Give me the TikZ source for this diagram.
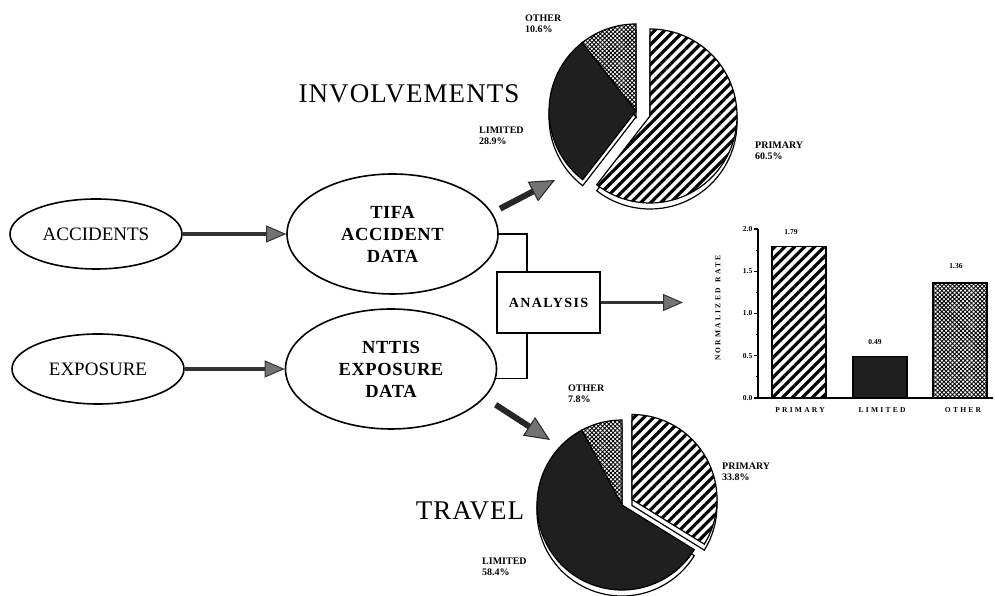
\documentclass[tikz,border=0pt]{standalone}
\usepackage{fontspec}
\setmainfont{Liberation Serif}
\newfontfamily\titlefont[LetterSpace=4]{Liberation Serif}
\newfontfamily\datafont[LetterSpace=3]{Liberation Serif}
\newfontfamily\boxfont[LetterSpace=10]{Liberation Serif}
\newfontfamily\chartfont[LetterSpace=30]{Liberation Serif}
\usetikzlibrary{shapes.geometric, arrows.meta, patterns.meta}
\newcommand{\pieslice}[5]{\draw[#5] (#1) -- ++(#2:#4) arc[start angle=#2, end angle=#3, radius=#4] -- cycle;}
\tikzset{
    % Flow chart styles
    source/.style={ellipse, draw, line width=1.6pt, minimum width=172pt, minimum height=70pt, font=\fontsize{19}{22}\selectfont},
    dataset/.style={ellipse, draw, line width=1.6pt, minimum width=211pt, minimum height=120pt, align=center, font=\datafont\bfseries\fontsize{18.5}{22}\selectfont},
    process/.style={rectangle, draw, line width=1.8pt, minimum width=103pt, minimum height=61pt, font=\boxfont\bfseries\fontsize{14}{16}\selectfont},
    heading/.style={font=\titlefont\fontsize{27}{30}\selectfont},
    link/.style={line width=1.3pt},
    flow/.style={line width=3.5pt, black!80, -{Triangle[length=20pt, width=17pt, fill=black!55, line width=1pt]}},
    bigflow/.style={line width=6pt, black!85, -{Triangle[length=25pt, width=22pt, fill=black!55, line width=1pt]}},
    % Pie styles
    rim/.style={draw, line width=1.2pt, fill=white},
    hatchfill/.style={draw, line width=1.2pt, preaction={fill=white}, pattern={Lines[angle=45, distance=7pt, line width=3.2pt]}},
    darkfill/.style={draw, line width=1.2pt, fill=black!88},
    dotfill/.style={draw, line width=1.2pt, preaction={fill=white}, pattern={Hatch[angle=45, distance=3pt, line width=0.9pt]}},
    slicelabel/.style={anchor=west, align=left, inner sep=0pt, font=\bfseries\fontsize{10}{10.5}\selectfont},
    % Bar chart styles
    axis/.style={line width=1.3pt},
    chartlabel/.style={inner sep=1pt, font=\chartfont\bfseries\fontsize{7.5}{8}\selectfont},
    chartvalue/.style={inner sep=1pt, font=\bfseries\fontsize{7.5}{8}\selectfont}
}

\begin{document}
\begin{tikzpicture}[x=1pt, y=1pt]
    \useasboundingbox (0,0) rectangle (995,596);

    % Sources and data sets
    \node[source] (acc) at (96,362) {ACCIDENTS};
    \node[source] (expo) at (98,227) {EXPOSURE};
    \node[dataset] (tifa) at (392.5,362) {TIFA\\ACCIDENT\\DATA};
    \node[dataset] (nttis) at (391,227) {NTTIS\\EXPOSURE\\DATA};
    \node[process] (analysis) at (548.5,293.5) {ANALYSIS};

    \draw[flow] (acc) -- (tifa);
    \draw[flow] (expo) -- (nttis);
    \draw[link] (tifa.east) -| ([xshift=-21.5pt]analysis.north);
    \draw[link] (nttis.-5) -| ([xshift=-21.5pt]analysis.south);

    % Arrows out to the charts
    \coordinate (invpie) at (555,416);
    \coordinate (travpie) at (550,156);
    \coordinate (ratebar) at (683,293.5);
    \draw[bigflow, shorten <=9pt] (tifa.12) -- (invpie);
    \draw[bigflow, shorten <=13pt] (nttis.-17) -- (travpie);
    \draw[flow] (analysis.east) -- (ratebar);

    % Involvements pie
    \node[heading] (involve) at (409,502) {INVOLVEMENTS};
    \coordinate (invrest) at (636,485);
    \coordinate (invprim) at (650,480);
    \coordinate (invrestlow) at (636,479);
    \coordinate (invprimlow) at (650,474);
    \pieslice{invprimlow}{90}{-127.8}{87}{rim}
    \pieslice{invrestlow}{128.2}{232.2}{87}{rim}
    \pieslice{invrestlow}{90}{128.2}{87}{rim}
    \pieslice{invprim}{90}{-127.8}{87}{hatchfill}
    \pieslice{invrest}{128.2}{232.2}{87}{darkfill}
    \pieslice{invrest}{90}{128.2}{87}{dotfill}
    \node[slicelabel] (invother) at (525,572) {OTHER\\10.6\%};
    \node[slicelabel] (invlimited) at (479,460) {LIMITED\\28.9\%};
    \node[slicelabel] (invprimary) at (755,445) {PRIMARY\\60.5\%};

    % Travel pie
    \node[heading] (travel) at (470,85) {TRAVEL};
    \coordinate (travrest) at (622,91);
    \coordinate (travprim) at (632,96.5);
    \coordinate (travrestlow) at (622,85);
    \coordinate (travprimlow) at (632,90.5);
    \pieslice{travprimlow}{90}{-31.7}{85}{rim}
    \pieslice{travrestlow}{118.1}{328.3}{85}{rim}
    \pieslice{travrestlow}{90}{118.1}{85}{rim}
    \pieslice{travprim}{90}{-31.7}{85}{hatchfill}
    \pieslice{travrest}{118.1}{328.3}{85}{darkfill}
    \pieslice{travrest}{90}{118.1}{85}{dotfill}
    \node[slicelabel] (travother) at (568,202) {OTHER\\7.8\%};
    \node[slicelabel] (travprimary) at (722,124) {PRIMARY\\33.8\%};
    \node[slicelabel] (travlimited) at (482,29) {LIMITED\\58.4\%};

    % Normalized rate bars
    \draw[hatchfill] (772,198) rectangle (826,349.3);
    \draw[darkfill] (853,198) rectangle (907,239.4);
    \draw[dotfill] (933,198) rectangle (987,312.9);
    \draw[axis] (758,367) -- (758,198) -- (993,198);
    \foreach \v [count=\i] in {0.0,0.5,1.0,1.5,2.0}
        \draw[axis] (758,198+84.5*\v) -- ++(-4,0) node[left, chartvalue] (tick\i) {\v};
    \foreach \v in {0.25,0.75,1.25,1.75}
        \draw[line width=0.8pt] (758,198+84.5*\v) -- ++(-2.5,0);
    \node[chartvalue] (val1) at (791,364) {1.79};
    \node[chartvalue] (val2) at (875,254) {0.49};
    \node[chartvalue] (val3) at (956,330) {1.36};
    \node[chartlabel] (cat1) at (800,186) {PRIMARY};
    \node[chartlabel] (cat2) at (882,186) {LIMITED};
    \node[chartlabel] (cat3) at (963,186) {OTHER};
    \node[chartlabel, rotate=90] (ratelabel) at (718,288) {NORMALIZED\hspace{6pt}RATE};
\end{tikzpicture}
\end{document}
